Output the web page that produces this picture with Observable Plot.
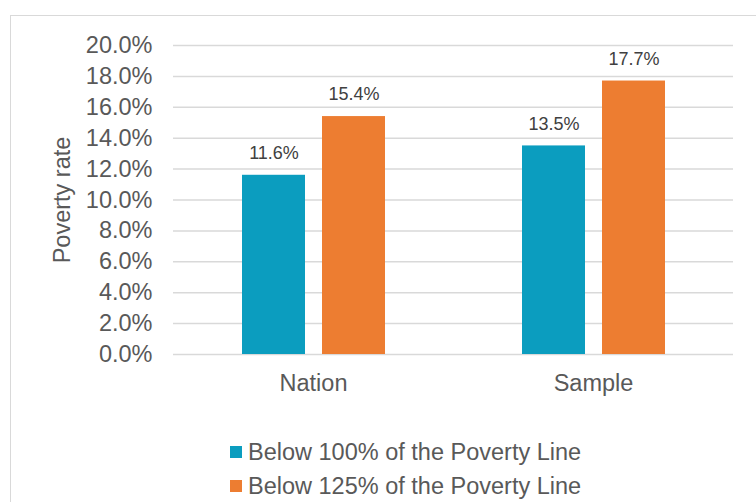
<!DOCTYPE html>
<html>
<head>
<meta charset="utf-8">
<script src="https://cdn.jsdelivr.net/npm/d3@7"></script>
<script src="https://cdn.jsdelivr.net/npm/@observablehq/plot@0.6"></script>
<style>
  html, body { margin: 0; padding: 0; background: #fff; }
  body { width: 756px; height: 502px; overflow: hidden; position: relative; font-family: "Liberation Sans", Arial, sans-serif; }
  #frame { position: absolute; left: 10px; top: 15px; width: 760px; height: 500px; border: 1px solid #d9d9d9; box-sizing: border-box; }
  #chart { position: absolute; left: 0; top: 0; }
  #legend { position: absolute; left: 230px; top: 435px; color: #595959; font-size: 23.5px; }
  .item { display: flex; align-items: center; height: 34px; }
  .sw { width: 12px; height: 12px; margin-right: 6px; }
</style>
</head>
<body>
<div id="frame"></div>
<div id="chart"></div>
<div id="legend"></div>
<script>
const categories = ["Nation", "Sample"];
const series = ["Below 100% of the Poverty Line", "Below 125% of the Poverty Line"];
const below100 = [0.116, 0.135];
const below125 = [0.154, 0.177];
const yTicks = [0, 0.02, 0.04, 0.06, 0.08, 0.10, 0.12, 0.14, 0.16, 0.18, 0.20];
const colors = ["#0b9dbf", "#ed7d31"];

const data = [];
categories.forEach((c, i) => {
  data.push({cat: c, series: series[0], value: below100[i]});
  data.push({cat: c, series: series[1], value: below125[i]});
});

const plot = Plot.plot({
  width: 756,
  height: 400,
  marginTop: 45,
  marginBottom: 46,
  marginLeft: 173,
  marginRight: 23,
  style: {fontFamily: "'Liberation Sans', Arial, sans-serif", color: "#595959", background: "transparent"},
  fx: {domain: categories, padding: 0, label: null},
  x: {domain: series, paddingInner: 0.2125, paddingOuter: 0.856, axis: null},
  y: {domain: [0, 0.2], label: null},
  color: {domain: series, range: colors},
  marks: [
    Plot.gridY(yTicks, {stroke: "#d9d9d9", strokeOpacity: 1, strokeWidth: 1.5}),
    Plot.axisY({ticks: yTicks, tickFormat: d3.format(".1%"), tickSize: 0, tickPadding: 21, fontSize: 23.5, fill: "#595959",
      label: "Poverty rate", labelAnchor: "center", labelArrow: "none", labelOffset: 120}),
    Plot.axisFx({anchor: "bottom", tickSize: 0, tickPadding: 20, fontSize: 23.5, fill: "#595959", label: null}),
    Plot.barY(data, {fx: "cat", x: "series", y: "value", fill: "series"}),
    Plot.text(data, {fx: "cat", x: "series", y: "value", text: d => d3.format(".1%")(d.value), dy: -22, fontSize: 18, fill: "#404040"})
  ]
});
document.getElementById("chart").appendChild(plot);

const legend = document.getElementById("legend");
series.forEach((s, i) => {
  const item = document.createElement("div");
  item.className = "item";
  const sw = document.createElement("span");
  sw.className = "sw";
  sw.style.background = colors[i];
  const t = document.createElement("span");
  t.textContent = s;
  item.appendChild(sw);
  item.appendChild(t);
  legend.appendChild(item);
});
</script>
</body>
</html>
